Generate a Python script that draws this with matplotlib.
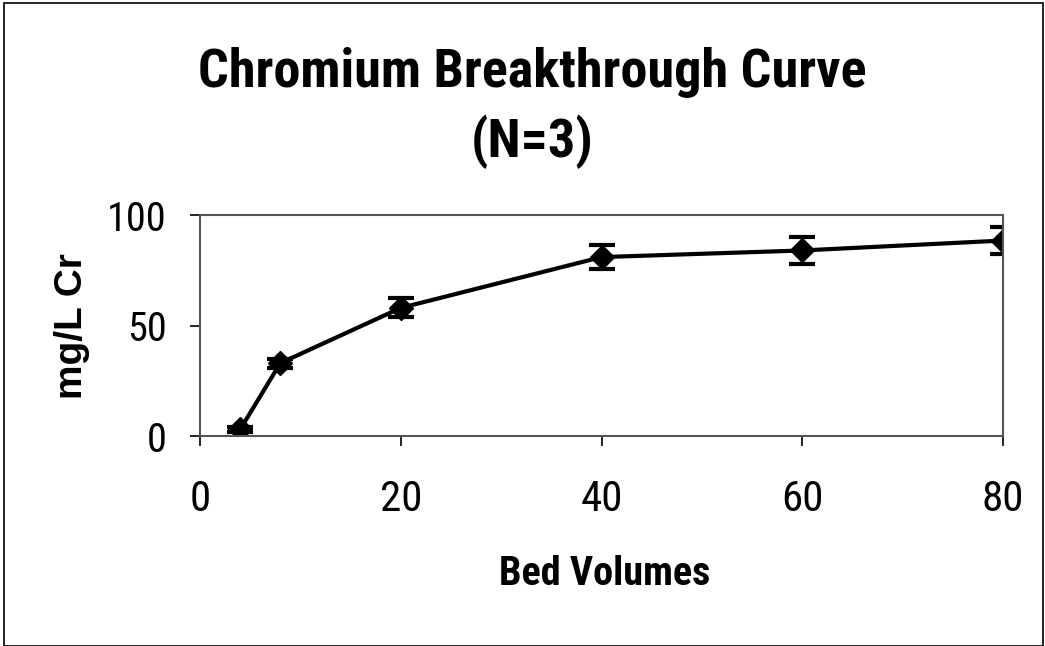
import matplotlib.pyplot as plt
from matplotlib.patches import Rectangle

# data
bed_volumes = [4, 8, 20, 40, 60, 80]
cr_mg_l = [3, 33, 58, 81, 84, 88.5]
cr_err = [1, 2, 4.3, 5.4, 6.3, 6.2]

plt.rcParams['font.family'] = ['Roboto Condensed', 'Archivo Narrow', 'Liberation Sans', 'DejaVu Sans']

fig = plt.figure(figsize=(10.45, 6.46), dpi=100)
ax = fig.add_axes([0.1914, 0.325, 0.7684, 0.342])

ax.errorbar(bed_volumes, cr_mg_l, yerr=cr_err, color='black', lw=3,
            marker='D', ms=12, capsize=9.5, capthick=3, elinewidth=2.5)

ax.set_xlim(0, 80)
ax.set_ylim(0, 100)
ax.set_xticks([0, 20, 40, 60, 80])
ax.set_yticks([0, 50, 100])
ax.tick_params(axis='x', labelsize=31, length=7, width=1.2, direction='out', pad=24)
ax.tick_params(axis='y', labelsize=29, length=7, width=1.2, direction='out', pad=17)
for s in ax.spines.values():
    s.set_color('#555555')
    s.set_linewidth(1.5)

ax.set_xlabel('Bed Volumes', fontsize=29, fontweight='bold', va='baseline')
ax.xaxis.set_label_coords(0.504, -0.674)
ax.set_ylabel('mg/L Cr', fontsize=28, fontweight='bold', va='center',
              family=['Liberation Sans', 'DejaVu Sans'])
ax.yaxis.set_label_coords(-0.159, 0.5)

fig.text(0.509, 0.8653, 'Chromium Breakthrough Curve', ha='center', va='baseline',
         fontsize=39, fontweight='bold')
fig.text(0.509, 0.757, '(N=3)', ha='center', va='baseline',
         fontsize=39, fontweight='bold')

# thin frame around the whole chart
fig.patches.append(Rectangle((0.004, 0.0), 0.994, 0.996, transform=fig.transFigure,
                             fill=False, edgecolor='black', lw=1.2))

fig.savefig('out.png', dpi=100)
